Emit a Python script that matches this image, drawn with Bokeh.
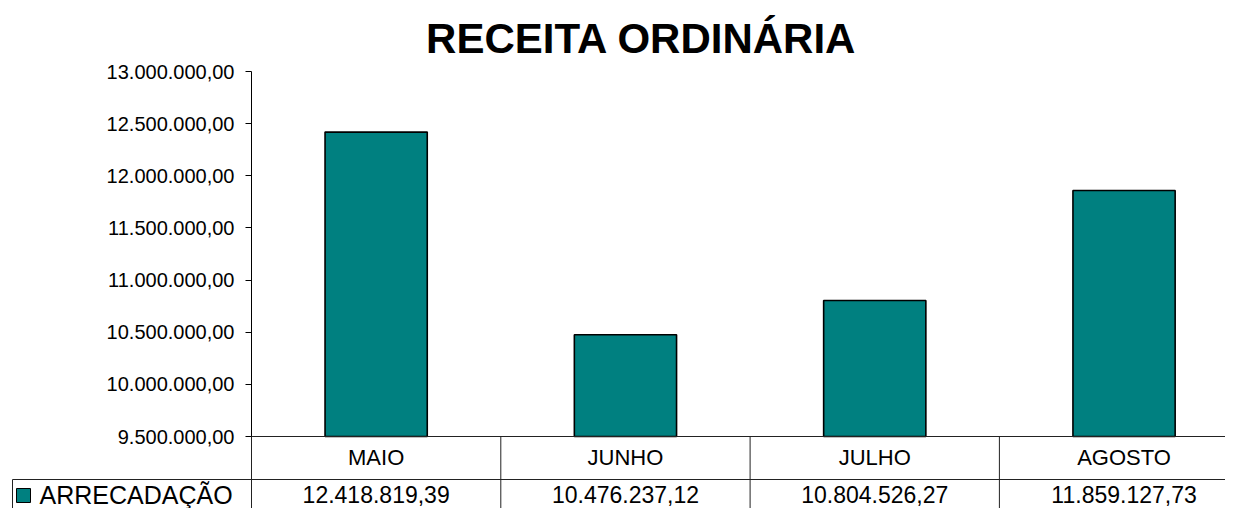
from bokeh.plotting import figure
from bokeh.models import Range1d, LinearAxis, FixedTicker, ColumnDataSource
from bokeh.core.properties import value
from bokeh.embed import file_html
from bokeh.resources import INLINE

# ---- data ----
TITLE = "RECEITA ORDINÁRIA"
SERIES_NAME = "ARRECADAÇÃO"
CATEGORIES = ["MAIO", "JUNHO", "JULHO", "AGOSTO"]
VALUES = [12418819.39, 10476237.12, 10804526.27, 11859127.73]
TICK_VALUES = [9500000, 10000000, 10500000, 11000000, 11500000,
               12000000, 12500000, 13000000]
Y_MIN, Y_MAX = 9500000, 13000000


def br(v):
    s = f"{v:,.2f}"
    return s.replace(",", "X").replace(".", ",").replace("X", ".")


TICK_LABELS = [br(v) for v in TICK_VALUES]
VALUE_LABELS = [br(v) for v in VALUES]

# ---- layout (canvas pixels) ----
W, H = 1225, 508
AXIS_X = 251          # x of value axis
CELL = 249.3          # width of one category cell in px
TOP_Y, BOT_Y = 71, 436  # y of Y_MAX and Y_MIN
ROW_Y = 479           # line between category row and value row
CAT_Y = 457
VAL_Y = 494
VPP = (Y_MAX - Y_MIN) / (BOT_Y - TOP_Y)
TEAL = "#008080"
FONT = "Liberation Sans"

x_range = Range1d(-AXIS_X / CELL, (W - AXIS_X) / CELL)
y_range = Range1d(Y_MIN - (H - BOT_Y) * VPP, Y_MAX + TOP_Y * VPP)

p = figure(width=W, height=H, x_range=x_range, y_range=y_range,
           x_axis_location=None, y_axis_location=None,
           output_backend="svg", toolbar_location=None,
           min_border=0, min_border_left=0, min_border_right=0,
           min_border_top=0, min_border_bottom=0)
p.extra_x_ranges = {"px": Range1d(0, W)}
p.extra_y_ranges = {"px": Range1d(H, 0)}
p.outline_line_color = None
p.xgrid.visible = False
p.ygrid.visible = False
p.background_fill_color = "white"
p.border_fill_color = "white"

# value axis
yax = LinearAxis(ticker=FixedTicker(ticks=TICK_VALUES),
                 major_label_overrides={v: l for v, l in zip(TICK_VALUES, TICK_LABELS)})
yax.fixed_location = 0
yax.bounds = (Y_MIN, Y_MAX)
yax.major_tick_in = 0
yax.major_tick_out = 6
yax.minor_tick_line_color = None
yax.axis_line_color = "black"
yax.major_tick_line_color = "black"
yax.major_label_text_font = FONT
yax.major_label_text_font_size = "20px"
yax.major_label_text_color = "black"
yax.major_label_standoff = 11
p.add_layout(yax, "left")

# bars
xs = [i + 0.5 for i in range(len(CATEGORIES))]
src = ColumnDataSource(dict(x=xs, top=VALUES, cat=CATEGORIES, lab=VALUE_LABELS))
p.vbar(x="x", top="top", bottom=Y_MIN, width=0.41, source=src,
       fill_color=TEAL, line_color="black", line_width=1.6)

# title
p.text(x=[641], y=[38], text=[TITLE], x_range_name="px", y_range_name="px",
       text_font=value(FONT), text_font_style="bold", text_font_size="42px",
       text_align="center", text_baseline="middle", text_color="black")

# data table lines
n = len(CATEGORIES)
LINE = "#222222"
p.segment(x0=[0], y0=[BOT_Y], x1=[n], y1=[BOT_Y], y_range_name="px",
          line_color=LINE, line_width=1)
p.segment(x0=[(12 - AXIS_X) / CELL], y0=[ROW_Y], x1=[n], y1=[ROW_Y], y_range_name="px",
          line_color=LINE, line_width=1)
p.segment(x0=list(range(n)), y0=[BOT_Y] * n, x1=list(range(n)), y1=[H] * n,
          y_range_name="px", line_color=LINE, line_width=1)
p.segment(x0=[12], y0=[ROW_Y], x1=[12], y1=[H], x_range_name="px",
          y_range_name="px", line_color=LINE, line_width=1)

# category labels and values
p.text(x="x", y=CAT_Y, text="cat", source=src, y_range_name="px",
       text_font=value(FONT), text_font_size="22px", text_align="center",
       text_baseline="middle", text_color="black")
p.text(x="x", y=VAL_Y, text="lab", source=src, y_range_name="px",
       text_font=value(FONT), text_font_size="23px", text_align="center",
       text_baseline="middle", text_color="black")

# legend key
p.rect(x=[23], y=[VAL_Y + 1], width=14, height=14, x_range_name="px", y_range_name="px",
       fill_color=TEAL, line_color="black", line_width=1)
p.text(x=[39], y=[VAL_Y], text=[SERIES_NAME], x_range_name="px", y_range_name="px",
       text_font=value(FONT), text_font_size="25px", text_align="left",
       text_baseline="middle", text_color="black")

open("out.html", "w").write(file_html(p, INLINE))
